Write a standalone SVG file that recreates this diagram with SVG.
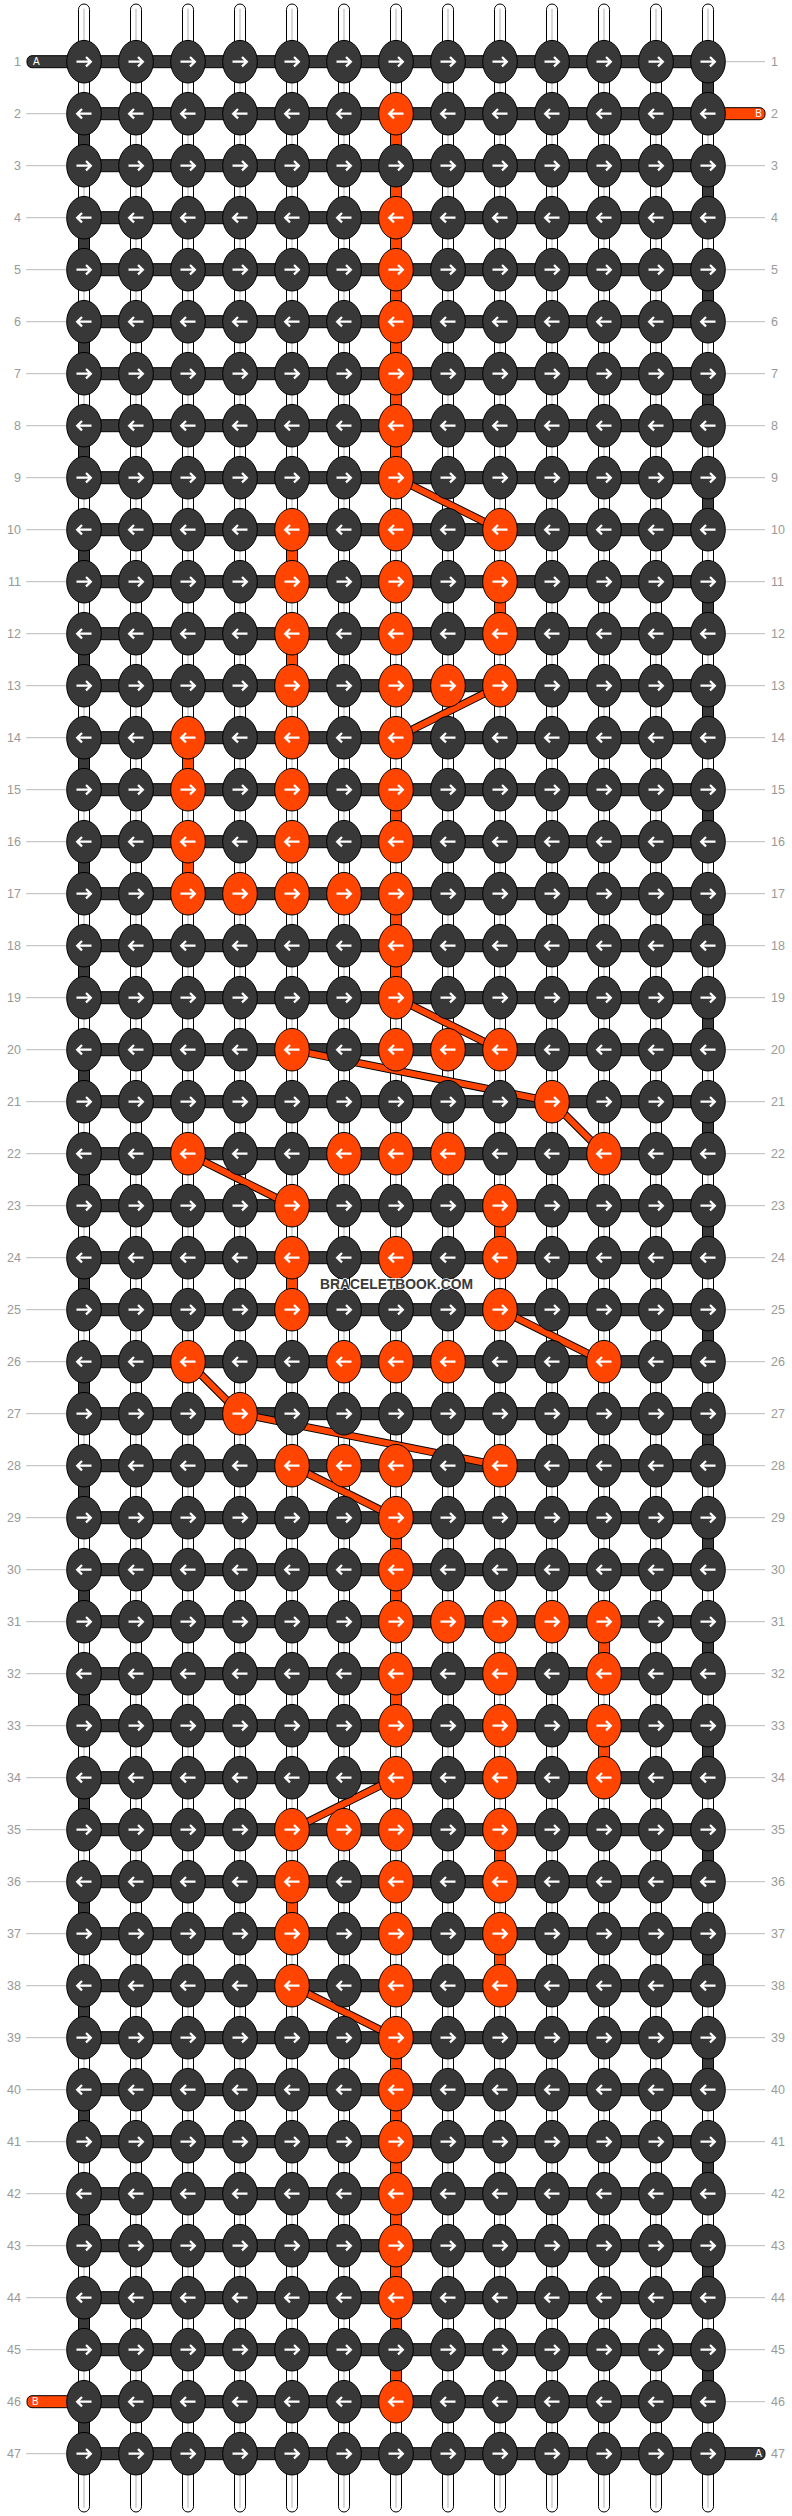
<svg xmlns="http://www.w3.org/2000/svg" xmlns:xlink="http://www.w3.org/1999/xlink" width="792" height="2516" viewBox="0 0 792 2516">
<style>
.lbl{font-family:"Liberation Sans",Arial,sans-serif;font-size:12.5px;fill:#999}
.gl{stroke:#bbb;stroke-width:1}
.tube{fill:#fff;stroke:#000;stroke-width:1}
.tc{stroke:#c8c8c8;stroke-width:1.4}
.bar{fill:#383838;stroke:#000;stroke-width:1}
.vo{fill:#ff4500;stroke:#000;stroke-width:1}
.ob{fill:#ff4500;stroke:#000;stroke-width:1}
.db{stroke:#000;stroke-width:8;stroke-linecap:round}
.do{stroke:#ff4500;stroke-width:6;stroke-linecap:round}
.tl{font-family:"Liberation Sans",Arial,sans-serif;font-size:10px;fill:#fff}
.wm{font-family:"Liberation Sans",Arial,sans-serif;font-weight:bold;font-size:15px;fill:#3a3a3a;stroke:#fff;stroke-width:1.5;paint-order:stroke}
.kd{fill:#383838;stroke:#000;stroke-width:1}
.ko{fill:#ff4500;stroke:#000;stroke-width:1}
.ar{fill:none;stroke:#fff;stroke-width:2.3}
</style>
<defs>
<path id="ar" class="ar" d="M-7.5,0H6.5M2,-4.7L6.8,0L2,4.7"/>
<g id="dR"><ellipse class="kd" rx="17.3" ry="21.3"/><use href="#ar"/></g>
<g id="dL"><ellipse class="kd" rx="17.3" ry="21.3"/><use href="#ar" transform="scale(-1,1)"/></g>
<g id="oR"><ellipse class="ko" rx="17.3" ry="21.3"/><use href="#ar"/></g>
<g id="oL"><ellipse class="ko" rx="17.3" ry="21.3"/><use href="#ar" transform="scale(-1,1)"/></g>
</defs>
<rect width="792" height="2516" fill="#fff"/>
<g transform="translate(32,9.7)">
<g id="strings">
<rect class="tube" x="46.5" y="-5.7" width="11" height="2508" rx="5.5"/><line class="tc" x1="52" y1="-1" x2="52" y2="2498"/>
<rect class="tube" x="98.5" y="-5.7" width="11" height="2508" rx="5.5"/><line class="tc" x1="104" y1="-1" x2="104" y2="2498"/>
<rect class="tube" x="150.5" y="-5.7" width="11" height="2508" rx="5.5"/><line class="tc" x1="156" y1="-1" x2="156" y2="2498"/>
<rect class="tube" x="202.5" y="-5.7" width="11" height="2508" rx="5.5"/><line class="tc" x1="208" y1="-1" x2="208" y2="2498"/>
<rect class="tube" x="254.5" y="-5.7" width="11" height="2508" rx="5.5"/><line class="tc" x1="260" y1="-1" x2="260" y2="2498"/>
<rect class="tube" x="306.5" y="-5.7" width="11" height="2508" rx="5.5"/><line class="tc" x1="312" y1="-1" x2="312" y2="2498"/>
<rect class="tube" x="358.5" y="-5.7" width="11" height="2508" rx="5.5"/><line class="tc" x1="364" y1="-1" x2="364" y2="2498"/>
<rect class="tube" x="410.5" y="-5.7" width="11" height="2508" rx="5.5"/><line class="tc" x1="416" y1="-1" x2="416" y2="2498"/>
<rect class="tube" x="462.5" y="-5.7" width="11" height="2508" rx="5.5"/><line class="tc" x1="468" y1="-1" x2="468" y2="2498"/>
<rect class="tube" x="514.5" y="-5.7" width="11" height="2508" rx="5.5"/><line class="tc" x1="520" y1="-1" x2="520" y2="2498"/>
<rect class="tube" x="566.5" y="-5.7" width="11" height="2508" rx="5.5"/><line class="tc" x1="572" y1="-1" x2="572" y2="2498"/>
<rect class="tube" x="618.5" y="-5.7" width="11" height="2508" rx="5.5"/><line class="tc" x1="624" y1="-1" x2="624" y2="2498"/>
<rect class="tube" x="670.5" y="-5.7" width="11" height="2508" rx="5.5"/><line class="tc" x1="676" y1="-1" x2="676" y2="2498"/>
</g>
<g id="labels-lines">
<line class="gl" x1="-6" x2="34" y1="104" y2="104"/><line class="gl" x1="-6" x2="34" y1="156" y2="156"/><line class="gl" x1="-6" x2="34" y1="208" y2="208"/><line class="gl" x1="-6" x2="34" y1="260" y2="260"/><line class="gl" x1="-6" x2="34" y1="312" y2="312"/><line class="gl" x1="-6" x2="34" y1="364" y2="364"/><line class="gl" x1="-6" x2="34" y1="416" y2="416"/><line class="gl" x1="-6" x2="34" y1="468" y2="468"/><line class="gl" x1="-6" x2="34" y1="520" y2="520"/><line class="gl" x1="-6" x2="34" y1="572" y2="572"/><line class="gl" x1="-6" x2="34" y1="624" y2="624"/><line class="gl" x1="-6" x2="34" y1="676" y2="676"/><line class="gl" x1="-6" x2="34" y1="728" y2="728"/><line class="gl" x1="-6" x2="34" y1="780" y2="780"/><line class="gl" x1="-6" x2="34" y1="832" y2="832"/><line class="gl" x1="-6" x2="34" y1="884" y2="884"/><line class="gl" x1="-6" x2="34" y1="936" y2="936"/><line class="gl" x1="-6" x2="34" y1="988" y2="988"/><line class="gl" x1="-6" x2="34" y1="1040" y2="1040"/><line class="gl" x1="-6" x2="34" y1="1092" y2="1092"/><line class="gl" x1="-6" x2="34" y1="1144" y2="1144"/><line class="gl" x1="-6" x2="34" y1="1196" y2="1196"/><line class="gl" x1="-6" x2="34" y1="1248" y2="1248"/><line class="gl" x1="-6" x2="34" y1="1300" y2="1300"/><line class="gl" x1="-6" x2="34" y1="1352" y2="1352"/><line class="gl" x1="-6" x2="34" y1="1404" y2="1404"/><line class="gl" x1="-6" x2="34" y1="1456" y2="1456"/><line class="gl" x1="-6" x2="34" y1="1508" y2="1508"/><line class="gl" x1="-6" x2="34" y1="1560" y2="1560"/><line class="gl" x1="-6" x2="34" y1="1612" y2="1612"/><line class="gl" x1="-6" x2="34" y1="1664" y2="1664"/><line class="gl" x1="-6" x2="34" y1="1716" y2="1716"/><line class="gl" x1="-6" x2="34" y1="1768" y2="1768"/><line class="gl" x1="-6" x2="34" y1="1820" y2="1820"/><line class="gl" x1="-6" x2="34" y1="1872" y2="1872"/><line class="gl" x1="-6" x2="34" y1="1924" y2="1924"/><line class="gl" x1="-6" x2="34" y1="1976" y2="1976"/><line class="gl" x1="-6" x2="34" y1="2028" y2="2028"/><line class="gl" x1="-6" x2="34" y1="2080" y2="2080"/><line class="gl" x1="-6" x2="34" y1="2132" y2="2132"/><line class="gl" x1="-6" x2="34" y1="2184" y2="2184"/><line class="gl" x1="-6" x2="34" y1="2236" y2="2236"/><line class="gl" x1="-6" x2="34" y1="2288" y2="2288"/><line class="gl" x1="-6" x2="34" y1="2340" y2="2340"/><line class="gl" x1="-6" x2="34" y1="2444" y2="2444"/>
<line class="gl" x1="694" x2="733" y1="52" y2="52"/><line class="gl" x1="694" x2="733" y1="156" y2="156"/><line class="gl" x1="694" x2="733" y1="208" y2="208"/><line class="gl" x1="694" x2="733" y1="260" y2="260"/><line class="gl" x1="694" x2="733" y1="312" y2="312"/><line class="gl" x1="694" x2="733" y1="364" y2="364"/><line class="gl" x1="694" x2="733" y1="416" y2="416"/><line class="gl" x1="694" x2="733" y1="468" y2="468"/><line class="gl" x1="694" x2="733" y1="520" y2="520"/><line class="gl" x1="694" x2="733" y1="572" y2="572"/><line class="gl" x1="694" x2="733" y1="624" y2="624"/><line class="gl" x1="694" x2="733" y1="676" y2="676"/><line class="gl" x1="694" x2="733" y1="728" y2="728"/><line class="gl" x1="694" x2="733" y1="780" y2="780"/><line class="gl" x1="694" x2="733" y1="832" y2="832"/><line class="gl" x1="694" x2="733" y1="884" y2="884"/><line class="gl" x1="694" x2="733" y1="936" y2="936"/><line class="gl" x1="694" x2="733" y1="988" y2="988"/><line class="gl" x1="694" x2="733" y1="1040" y2="1040"/><line class="gl" x1="694" x2="733" y1="1092" y2="1092"/><line class="gl" x1="694" x2="733" y1="1144" y2="1144"/><line class="gl" x1="694" x2="733" y1="1196" y2="1196"/><line class="gl" x1="694" x2="733" y1="1248" y2="1248"/><line class="gl" x1="694" x2="733" y1="1300" y2="1300"/><line class="gl" x1="694" x2="733" y1="1352" y2="1352"/><line class="gl" x1="694" x2="733" y1="1404" y2="1404"/><line class="gl" x1="694" x2="733" y1="1456" y2="1456"/><line class="gl" x1="694" x2="733" y1="1508" y2="1508"/><line class="gl" x1="694" x2="733" y1="1560" y2="1560"/><line class="gl" x1="694" x2="733" y1="1612" y2="1612"/><line class="gl" x1="694" x2="733" y1="1664" y2="1664"/><line class="gl" x1="694" x2="733" y1="1716" y2="1716"/><line class="gl" x1="694" x2="733" y1="1768" y2="1768"/><line class="gl" x1="694" x2="733" y1="1820" y2="1820"/><line class="gl" x1="694" x2="733" y1="1872" y2="1872"/><line class="gl" x1="694" x2="733" y1="1924" y2="1924"/><line class="gl" x1="694" x2="733" y1="1976" y2="1976"/><line class="gl" x1="694" x2="733" y1="2028" y2="2028"/><line class="gl" x1="694" x2="733" y1="2080" y2="2080"/><line class="gl" x1="694" x2="733" y1="2132" y2="2132"/><line class="gl" x1="694" x2="733" y1="2184" y2="2184"/><line class="gl" x1="694" x2="733" y1="2236" y2="2236"/><line class="gl" x1="694" x2="733" y1="2288" y2="2288"/><line class="gl" x1="694" x2="733" y1="2340" y2="2340"/><line class="gl" x1="694" x2="733" y1="2392" y2="2392"/>
</g>
<g id="threads">
<rect class="bar" x="-5" y="46" width="681" height="12" rx="5"/>
<rect class="bar" x="52" y="98" width="624" height="12"/><rect class="bar" x="52" y="150" width="624" height="12"/><rect class="bar" x="52" y="202" width="624" height="12"/><rect class="bar" x="52" y="254" width="624" height="12"/><rect class="bar" x="52" y="306" width="624" height="12"/><rect class="bar" x="52" y="358" width="624" height="12"/><rect class="bar" x="52" y="410" width="624" height="12"/><rect class="bar" x="52" y="462" width="624" height="12"/><rect class="bar" x="52" y="514" width="624" height="12"/><rect class="bar" x="52" y="566" width="624" height="12"/><rect class="bar" x="52" y="618" width="624" height="12"/><rect class="bar" x="52" y="670" width="624" height="12"/><rect class="bar" x="52" y="722" width="624" height="12"/><rect class="bar" x="52" y="774" width="624" height="12"/><rect class="bar" x="52" y="826" width="624" height="12"/><rect class="bar" x="52" y="878" width="624" height="12"/><rect class="bar" x="52" y="930" width="624" height="12"/><rect class="bar" x="52" y="982" width="624" height="12"/><rect class="bar" x="52" y="1034" width="624" height="12"/><rect class="bar" x="52" y="1086" width="624" height="12"/><rect class="bar" x="52" y="1138" width="624" height="12"/><rect class="bar" x="52" y="1190" width="624" height="12"/><rect class="bar" x="52" y="1242" width="624" height="12"/><rect class="bar" x="52" y="1294" width="624" height="12"/><rect class="bar" x="52" y="1346" width="624" height="12"/><rect class="bar" x="52" y="1398" width="624" height="12"/><rect class="bar" x="52" y="1450" width="624" height="12"/><rect class="bar" x="52" y="1502" width="624" height="12"/><rect class="bar" x="52" y="1554" width="624" height="12"/><rect class="bar" x="52" y="1606" width="624" height="12"/><rect class="bar" x="52" y="1658" width="624" height="12"/><rect class="bar" x="52" y="1710" width="624" height="12"/><rect class="bar" x="52" y="1762" width="624" height="12"/><rect class="bar" x="52" y="1814" width="624" height="12"/><rect class="bar" x="52" y="1866" width="624" height="12"/><rect class="bar" x="52" y="1918" width="624" height="12"/><rect class="bar" x="52" y="1970" width="624" height="12"/><rect class="bar" x="52" y="2022" width="624" height="12"/><rect class="bar" x="52" y="2074" width="624" height="12"/><rect class="bar" x="52" y="2126" width="624" height="12"/><rect class="bar" x="52" y="2178" width="624" height="12"/><rect class="bar" x="52" y="2230" width="624" height="12"/><rect class="bar" x="52" y="2282" width="624" height="12"/><rect class="bar" x="52" y="2334" width="624" height="12"/><rect class="bar" x="52" y="2386" width="624" height="12"/>
<rect class="bar" x="52" y="2438" width="681" height="12" rx="5"/>
<rect class="ob" x="660" y="98" width="73" height="12" rx="5"/>
<rect class="ob" x="-5" y="2386" width="67" height="12" rx="5"/>
<rect class="bar" x="670.5" y="52" width="11" height="52"/><rect class="bar" x="670.5" y="156" width="11" height="52"/><rect class="bar" x="670.5" y="260" width="11" height="52"/><rect class="bar" x="670.5" y="364" width="11" height="52"/><rect class="bar" x="670.5" y="468" width="11" height="52"/><rect class="bar" x="670.5" y="572" width="11" height="52"/><rect class="bar" x="670.5" y="676" width="11" height="52"/><rect class="bar" x="670.5" y="780" width="11" height="52"/><rect class="bar" x="670.5" y="884" width="11" height="52"/><rect class="bar" x="670.5" y="988" width="11" height="52"/><rect class="bar" x="670.5" y="1092" width="11" height="52"/><rect class="bar" x="670.5" y="1196" width="11" height="52"/><rect class="bar" x="670.5" y="1300" width="11" height="52"/><rect class="bar" x="670.5" y="1404" width="11" height="52"/><rect class="bar" x="670.5" y="1508" width="11" height="52"/><rect class="bar" x="670.5" y="1612" width="11" height="52"/><rect class="bar" x="670.5" y="1716" width="11" height="52"/><rect class="bar" x="670.5" y="1820" width="11" height="52"/><rect class="bar" x="670.5" y="1924" width="11" height="52"/><rect class="bar" x="670.5" y="2028" width="11" height="52"/><rect class="bar" x="670.5" y="2132" width="11" height="52"/><rect class="bar" x="670.5" y="2236" width="11" height="52"/><rect class="bar" x="670.5" y="2340" width="11" height="52"/>
<rect class="bar" x="46.5" y="104" width="11" height="52"/><rect class="bar" x="46.5" y="208" width="11" height="52"/><rect class="bar" x="46.5" y="312" width="11" height="52"/><rect class="bar" x="46.5" y="416" width="11" height="52"/><rect class="bar" x="46.5" y="520" width="11" height="52"/><rect class="bar" x="46.5" y="624" width="11" height="52"/><rect class="bar" x="46.5" y="728" width="11" height="52"/><rect class="bar" x="46.5" y="832" width="11" height="52"/><rect class="bar" x="46.5" y="936" width="11" height="52"/><rect class="bar" x="46.5" y="1040" width="11" height="52"/><rect class="bar" x="46.5" y="1144" width="11" height="52"/><rect class="bar" x="46.5" y="1248" width="11" height="52"/><rect class="bar" x="46.5" y="1352" width="11" height="52"/><rect class="bar" x="46.5" y="1456" width="11" height="52"/><rect class="bar" x="46.5" y="1560" width="11" height="52"/><rect class="bar" x="46.5" y="1664" width="11" height="52"/><rect class="bar" x="46.5" y="1768" width="11" height="52"/><rect class="bar" x="46.5" y="1872" width="11" height="52"/><rect class="bar" x="46.5" y="1976" width="11" height="52"/><rect class="bar" x="46.5" y="2080" width="11" height="52"/><rect class="bar" x="46.5" y="2184" width="11" height="52"/><rect class="bar" x="46.5" y="2288" width="11" height="52"/><rect class="bar" x="46.5" y="2392" width="11" height="52"/>
<rect class="vo" x="358.5" y="104" width="11" height="364"/>
<rect class="vo" x="254.5" y="520" width="11" height="52"/>
<rect class="vo" x="462.5" y="572" width="11" height="52"/>
<rect class="vo" x="254.5" y="624" width="11" height="52"/>
<rect class="vo" x="150.5" y="728" width="11" height="52"/>
<rect class="vo" x="358.5" y="780" width="11" height="52"/>
<rect class="vo" x="150.5" y="832" width="11" height="52"/>
<rect class="vo" x="358.5" y="884" width="11" height="104"/>
<rect class="vo" x="462.5" y="1196" width="11" height="52"/>
<rect class="vo" x="254.5" y="1248" width="11" height="52"/>
<rect class="vo" x="358.5" y="1508" width="11" height="104"/>
<rect class="vo" x="566.5" y="1612" width="11" height="52"/>
<rect class="vo" x="358.5" y="1664" width="11" height="52"/>
<rect class="vo" x="566.5" y="1716" width="11" height="52"/>
<rect class="vo" x="462.5" y="1820" width="11" height="52"/>
<rect class="vo" x="254.5" y="1872" width="11" height="52"/>
<rect class="vo" x="462.5" y="1924" width="11" height="52"/>
<rect class="vo" x="358.5" y="2028" width="11" height="364"/>
<g class="db">
<line x1="364" y1="468" x2="468" y2="520"/><line x1="468" y1="676" x2="364" y2="728"/><line x1="364" y1="988" x2="468" y2="1040"/><line x1="260" y1="1040" x2="520" y2="1092"/><line x1="520" y1="1092" x2="572" y2="1144"/><line x1="156" y1="1144" x2="260" y2="1196"/><line x1="468" y1="1300" x2="572" y2="1352"/><line x1="156" y1="1352" x2="208" y2="1404"/><line x1="208" y1="1404" x2="468" y2="1456"/><line x1="260" y1="1456" x2="364" y2="1508"/><line x1="364" y1="1768" x2="260" y2="1820"/><line x1="260" y1="1976" x2="364" y2="2028"/>
</g>
<g class="do">
<line x1="364" y1="468" x2="468" y2="520"/><line x1="468" y1="676" x2="364" y2="728"/><line x1="364" y1="988" x2="468" y2="1040"/><line x1="260" y1="1040" x2="520" y2="1092"/><line x1="520" y1="1092" x2="572" y2="1144"/><line x1="156" y1="1144" x2="260" y2="1196"/><line x1="468" y1="1300" x2="572" y2="1352"/><line x1="156" y1="1352" x2="208" y2="1404"/><line x1="208" y1="1404" x2="468" y2="1456"/><line x1="260" y1="1456" x2="364" y2="1508"/><line x1="364" y1="1768" x2="260" y2="1820"/><line x1="260" y1="1976" x2="364" y2="2028"/>
</g>
<text class="tl" x="1" y="55.5">A</text>
<text class="tl" x="730" y="2447.5" text-anchor="end">A</text>
<text class="tl" x="730" y="107.5" text-anchor="end">B</text>
<text class="tl" x="0" y="2395.5">B</text>
</g>
<g id="knots">
<g transform="translate(0,52)"><g id="k1-1"><use href="#dR" x="52"/></g><g id="k1-2"><use href="#dR" x="104"/></g><g id="k1-3"><use href="#dR" x="156"/></g><g id="k1-4"><use href="#dR" x="208"/></g><g id="k1-5"><use href="#dR" x="260"/></g><g id="k1-6"><use href="#dR" x="312"/></g><g id="k1-7"><use href="#dR" x="364"/></g><g id="k1-8"><use href="#dR" x="416"/></g><g id="k1-9"><use href="#dR" x="468"/></g><g id="k1-10"><use href="#dR" x="520"/></g><g id="k1-11"><use href="#dR" x="572"/></g><g id="k1-12"><use href="#dR" x="624"/></g><g id="k1-13"><use href="#dR" x="676"/></g></g>
<g transform="translate(0,104)"><g id="k2-1"><use href="#dL" x="52"/></g><g id="k2-2"><use href="#dL" x="104"/></g><g id="k2-3"><use href="#dL" x="156"/></g><g id="k2-4"><use href="#dL" x="208"/></g><g id="k2-5"><use href="#dL" x="260"/></g><g id="k2-6"><use href="#dL" x="312"/></g><g id="k2-7"><use href="#oL" x="364"/></g><g id="k2-8"><use href="#dL" x="416"/></g><g id="k2-9"><use href="#dL" x="468"/></g><g id="k2-10"><use href="#dL" x="520"/></g><g id="k2-11"><use href="#dL" x="572"/></g><g id="k2-12"><use href="#dL" x="624"/></g><g id="k2-13"><use href="#dL" x="676"/></g></g>
<g transform="translate(0,156)"><g id="k3-1"><use href="#dR" x="52"/></g><g id="k3-2"><use href="#dR" x="104"/></g><g id="k3-3"><use href="#dR" x="156"/></g><g id="k3-4"><use href="#dR" x="208"/></g><g id="k3-5"><use href="#dR" x="260"/></g><g id="k3-6"><use href="#dR" x="312"/></g><g id="k3-7"><use href="#dR" x="364"/></g><g id="k3-8"><use href="#dR" x="416"/></g><g id="k3-9"><use href="#dR" x="468"/></g><g id="k3-10"><use href="#dR" x="520"/></g><g id="k3-11"><use href="#dR" x="572"/></g><g id="k3-12"><use href="#dR" x="624"/></g><g id="k3-13"><use href="#dR" x="676"/></g></g>
<g transform="translate(0,208)"><g id="k4-1"><use href="#dL" x="52"/></g><g id="k4-2"><use href="#dL" x="104"/></g><g id="k4-3"><use href="#dL" x="156"/></g><g id="k4-4"><use href="#dL" x="208"/></g><g id="k4-5"><use href="#dL" x="260"/></g><g id="k4-6"><use href="#dL" x="312"/></g><g id="k4-7"><use href="#oL" x="364"/></g><g id="k4-8"><use href="#dL" x="416"/></g><g id="k4-9"><use href="#dL" x="468"/></g><g id="k4-10"><use href="#dL" x="520"/></g><g id="k4-11"><use href="#dL" x="572"/></g><g id="k4-12"><use href="#dL" x="624"/></g><g id="k4-13"><use href="#dL" x="676"/></g></g>
<g transform="translate(0,260)"><g id="k5-1"><use href="#dR" x="52"/></g><g id="k5-2"><use href="#dR" x="104"/></g><g id="k5-3"><use href="#dR" x="156"/></g><g id="k5-4"><use href="#dR" x="208"/></g><g id="k5-5"><use href="#dR" x="260"/></g><g id="k5-6"><use href="#dR" x="312"/></g><g id="k5-7"><use href="#oR" x="364"/></g><g id="k5-8"><use href="#dR" x="416"/></g><g id="k5-9"><use href="#dR" x="468"/></g><g id="k5-10"><use href="#dR" x="520"/></g><g id="k5-11"><use href="#dR" x="572"/></g><g id="k5-12"><use href="#dR" x="624"/></g><g id="k5-13"><use href="#dR" x="676"/></g></g>
<g transform="translate(0,312)"><g id="k6-1"><use href="#dL" x="52"/></g><g id="k6-2"><use href="#dL" x="104"/></g><g id="k6-3"><use href="#dL" x="156"/></g><g id="k6-4"><use href="#dL" x="208"/></g><g id="k6-5"><use href="#dL" x="260"/></g><g id="k6-6"><use href="#dL" x="312"/></g><g id="k6-7"><use href="#oL" x="364"/></g><g id="k6-8"><use href="#dL" x="416"/></g><g id="k6-9"><use href="#dL" x="468"/></g><g id="k6-10"><use href="#dL" x="520"/></g><g id="k6-11"><use href="#dL" x="572"/></g><g id="k6-12"><use href="#dL" x="624"/></g><g id="k6-13"><use href="#dL" x="676"/></g></g>
<g transform="translate(0,364)"><g id="k7-1"><use href="#dR" x="52"/></g><g id="k7-2"><use href="#dR" x="104"/></g><g id="k7-3"><use href="#dR" x="156"/></g><g id="k7-4"><use href="#dR" x="208"/></g><g id="k7-5"><use href="#dR" x="260"/></g><g id="k7-6"><use href="#dR" x="312"/></g><g id="k7-7"><use href="#oR" x="364"/></g><g id="k7-8"><use href="#dR" x="416"/></g><g id="k7-9"><use href="#dR" x="468"/></g><g id="k7-10"><use href="#dR" x="520"/></g><g id="k7-11"><use href="#dR" x="572"/></g><g id="k7-12"><use href="#dR" x="624"/></g><g id="k7-13"><use href="#dR" x="676"/></g></g>
<g transform="translate(0,416)"><g id="k8-1"><use href="#dL" x="52"/></g><g id="k8-2"><use href="#dL" x="104"/></g><g id="k8-3"><use href="#dL" x="156"/></g><g id="k8-4"><use href="#dL" x="208"/></g><g id="k8-5"><use href="#dL" x="260"/></g><g id="k8-6"><use href="#dL" x="312"/></g><g id="k8-7"><use href="#oL" x="364"/></g><g id="k8-8"><use href="#dL" x="416"/></g><g id="k8-9"><use href="#dL" x="468"/></g><g id="k8-10"><use href="#dL" x="520"/></g><g id="k8-11"><use href="#dL" x="572"/></g><g id="k8-12"><use href="#dL" x="624"/></g><g id="k8-13"><use href="#dL" x="676"/></g></g>
<g transform="translate(0,468)"><g id="k9-1"><use href="#dR" x="52"/></g><g id="k9-2"><use href="#dR" x="104"/></g><g id="k9-3"><use href="#dR" x="156"/></g><g id="k9-4"><use href="#dR" x="208"/></g><g id="k9-5"><use href="#dR" x="260"/></g><g id="k9-6"><use href="#dR" x="312"/></g><g id="k9-7"><use href="#oR" x="364"/></g><g id="k9-8"><use href="#dR" x="416"/></g><g id="k9-9"><use href="#dR" x="468"/></g><g id="k9-10"><use href="#dR" x="520"/></g><g id="k9-11"><use href="#dR" x="572"/></g><g id="k9-12"><use href="#dR" x="624"/></g><g id="k9-13"><use href="#dR" x="676"/></g></g>
<g transform="translate(0,520)"><g id="k10-1"><use href="#dL" x="52"/></g><g id="k10-2"><use href="#dL" x="104"/></g><g id="k10-3"><use href="#dL" x="156"/></g><g id="k10-4"><use href="#dL" x="208"/></g><g id="k10-5"><use href="#oL" x="260"/></g><g id="k10-6"><use href="#dL" x="312"/></g><g id="k10-7"><use href="#oL" x="364"/></g><g id="k10-8"><use href="#dL" x="416"/></g><g id="k10-9"><use href="#oL" x="468"/></g><g id="k10-10"><use href="#dL" x="520"/></g><g id="k10-11"><use href="#dL" x="572"/></g><g id="k10-12"><use href="#dL" x="624"/></g><g id="k10-13"><use href="#dL" x="676"/></g></g>
<g transform="translate(0,572)"><g id="k11-1"><use href="#dR" x="52"/></g><g id="k11-2"><use href="#dR" x="104"/></g><g id="k11-3"><use href="#dR" x="156"/></g><g id="k11-4"><use href="#dR" x="208"/></g><g id="k11-5"><use href="#oR" x="260"/></g><g id="k11-6"><use href="#dR" x="312"/></g><g id="k11-7"><use href="#oR" x="364"/></g><g id="k11-8"><use href="#dR" x="416"/></g><g id="k11-9"><use href="#oR" x="468"/></g><g id="k11-10"><use href="#dR" x="520"/></g><g id="k11-11"><use href="#dR" x="572"/></g><g id="k11-12"><use href="#dR" x="624"/></g><g id="k11-13"><use href="#dR" x="676"/></g></g>
<g transform="translate(0,624)"><g id="k12-1"><use href="#dL" x="52"/></g><g id="k12-2"><use href="#dL" x="104"/></g><g id="k12-3"><use href="#dL" x="156"/></g><g id="k12-4"><use href="#dL" x="208"/></g><g id="k12-5"><use href="#oL" x="260"/></g><g id="k12-6"><use href="#dL" x="312"/></g><g id="k12-7"><use href="#oL" x="364"/></g><g id="k12-8"><use href="#dL" x="416"/></g><g id="k12-9"><use href="#oL" x="468"/></g><g id="k12-10"><use href="#dL" x="520"/></g><g id="k12-11"><use href="#dL" x="572"/></g><g id="k12-12"><use href="#dL" x="624"/></g><g id="k12-13"><use href="#dL" x="676"/></g></g>
<g transform="translate(0,676)"><g id="k13-1"><use href="#dR" x="52"/></g><g id="k13-2"><use href="#dR" x="104"/></g><g id="k13-3"><use href="#dR" x="156"/></g><g id="k13-4"><use href="#dR" x="208"/></g><g id="k13-5"><use href="#oR" x="260"/></g><g id="k13-6"><use href="#dR" x="312"/></g><g id="k13-7"><use href="#oR" x="364"/></g><g id="k13-8"><use href="#oR" x="416"/></g><g id="k13-9"><use href="#oR" x="468"/></g><g id="k13-10"><use href="#dR" x="520"/></g><g id="k13-11"><use href="#dR" x="572"/></g><g id="k13-12"><use href="#dR" x="624"/></g><g id="k13-13"><use href="#dR" x="676"/></g></g>
<g transform="translate(0,728)"><g id="k14-1"><use href="#dL" x="52"/></g><g id="k14-2"><use href="#dL" x="104"/></g><g id="k14-3"><use href="#oL" x="156"/></g><g id="k14-4"><use href="#dL" x="208"/></g><g id="k14-5"><use href="#oL" x="260"/></g><g id="k14-6"><use href="#dL" x="312"/></g><g id="k14-7"><use href="#oL" x="364"/></g><g id="k14-8"><use href="#dL" x="416"/></g><g id="k14-9"><use href="#dL" x="468"/></g><g id="k14-10"><use href="#dL" x="520"/></g><g id="k14-11"><use href="#dL" x="572"/></g><g id="k14-12"><use href="#dL" x="624"/></g><g id="k14-13"><use href="#dL" x="676"/></g></g>
<g transform="translate(0,780)"><g id="k15-1"><use href="#dR" x="52"/></g><g id="k15-2"><use href="#dR" x="104"/></g><g id="k15-3"><use href="#oR" x="156"/></g><g id="k15-4"><use href="#dR" x="208"/></g><g id="k15-5"><use href="#oR" x="260"/></g><g id="k15-6"><use href="#dR" x="312"/></g><g id="k15-7"><use href="#oR" x="364"/></g><g id="k15-8"><use href="#dR" x="416"/></g><g id="k15-9"><use href="#dR" x="468"/></g><g id="k15-10"><use href="#dR" x="520"/></g><g id="k15-11"><use href="#dR" x="572"/></g><g id="k15-12"><use href="#dR" x="624"/></g><g id="k15-13"><use href="#dR" x="676"/></g></g>
<g transform="translate(0,832)"><g id="k16-1"><use href="#dL" x="52"/></g><g id="k16-2"><use href="#dL" x="104"/></g><g id="k16-3"><use href="#oL" x="156"/></g><g id="k16-4"><use href="#dL" x="208"/></g><g id="k16-5"><use href="#oL" x="260"/></g><g id="k16-6"><use href="#dL" x="312"/></g><g id="k16-7"><use href="#oL" x="364"/></g><g id="k16-8"><use href="#dL" x="416"/></g><g id="k16-9"><use href="#dL" x="468"/></g><g id="k16-10"><use href="#dL" x="520"/></g><g id="k16-11"><use href="#dL" x="572"/></g><g id="k16-12"><use href="#dL" x="624"/></g><g id="k16-13"><use href="#dL" x="676"/></g></g>
<g transform="translate(0,884)"><g id="k17-1"><use href="#dR" x="52"/></g><g id="k17-2"><use href="#dR" x="104"/></g><g id="k17-3"><use href="#oR" x="156"/></g><g id="k17-4"><use href="#oR" x="208"/></g><g id="k17-5"><use href="#oR" x="260"/></g><g id="k17-6"><use href="#oR" x="312"/></g><g id="k17-7"><use href="#oR" x="364"/></g><g id="k17-8"><use href="#dR" x="416"/></g><g id="k17-9"><use href="#dR" x="468"/></g><g id="k17-10"><use href="#dR" x="520"/></g><g id="k17-11"><use href="#dR" x="572"/></g><g id="k17-12"><use href="#dR" x="624"/></g><g id="k17-13"><use href="#dR" x="676"/></g></g>
<g transform="translate(0,936)"><g id="k18-1"><use href="#dL" x="52"/></g><g id="k18-2"><use href="#dL" x="104"/></g><g id="k18-3"><use href="#dL" x="156"/></g><g id="k18-4"><use href="#dL" x="208"/></g><g id="k18-5"><use href="#dL" x="260"/></g><g id="k18-6"><use href="#dL" x="312"/></g><g id="k18-7"><use href="#oL" x="364"/></g><g id="k18-8"><use href="#dL" x="416"/></g><g id="k18-9"><use href="#dL" x="468"/></g><g id="k18-10"><use href="#dL" x="520"/></g><g id="k18-11"><use href="#dL" x="572"/></g><g id="k18-12"><use href="#dL" x="624"/></g><g id="k18-13"><use href="#dL" x="676"/></g></g>
<g transform="translate(0,988)"><g id="k19-1"><use href="#dR" x="52"/></g><g id="k19-2"><use href="#dR" x="104"/></g><g id="k19-3"><use href="#dR" x="156"/></g><g id="k19-4"><use href="#dR" x="208"/></g><g id="k19-5"><use href="#dR" x="260"/></g><g id="k19-6"><use href="#dR" x="312"/></g><g id="k19-7"><use href="#oR" x="364"/></g><g id="k19-8"><use href="#dR" x="416"/></g><g id="k19-9"><use href="#dR" x="468"/></g><g id="k19-10"><use href="#dR" x="520"/></g><g id="k19-11"><use href="#dR" x="572"/></g><g id="k19-12"><use href="#dR" x="624"/></g><g id="k19-13"><use href="#dR" x="676"/></g></g>
<g transform="translate(0,1040)"><g id="k20-1"><use href="#dL" x="52"/></g><g id="k20-2"><use href="#dL" x="104"/></g><g id="k20-3"><use href="#dL" x="156"/></g><g id="k20-4"><use href="#dL" x="208"/></g><g id="k20-5"><use href="#oL" x="260"/></g><g id="k20-6"><use href="#dL" x="312"/></g><g id="k20-7"><use href="#oL" x="364"/></g><g id="k20-8"><use href="#oL" x="416"/></g><g id="k20-9"><use href="#oL" x="468"/></g><g id="k20-10"><use href="#dL" x="520"/></g><g id="k20-11"><use href="#dL" x="572"/></g><g id="k20-12"><use href="#dL" x="624"/></g><g id="k20-13"><use href="#dL" x="676"/></g></g>
<g transform="translate(0,1092)"><g id="k21-1"><use href="#dR" x="52"/></g><g id="k21-2"><use href="#dR" x="104"/></g><g id="k21-3"><use href="#dR" x="156"/></g><g id="k21-4"><use href="#dR" x="208"/></g><g id="k21-5"><use href="#dR" x="260"/></g><g id="k21-6"><use href="#dR" x="312"/></g><g id="k21-7"><use href="#dR" x="364"/></g><g id="k21-8"><use href="#dR" x="416"/></g><g id="k21-9"><use href="#dR" x="468"/></g><g id="k21-10"><use href="#oR" x="520"/></g><g id="k21-11"><use href="#dR" x="572"/></g><g id="k21-12"><use href="#dR" x="624"/></g><g id="k21-13"><use href="#dR" x="676"/></g></g>
<g transform="translate(0,1144)"><g id="k22-1"><use href="#dL" x="52"/></g><g id="k22-2"><use href="#dL" x="104"/></g><g id="k22-3"><use href="#oL" x="156"/></g><g id="k22-4"><use href="#dL" x="208"/></g><g id="k22-5"><use href="#dL" x="260"/></g><g id="k22-6"><use href="#oL" x="312"/></g><g id="k22-7"><use href="#oL" x="364"/></g><g id="k22-8"><use href="#oL" x="416"/></g><g id="k22-9"><use href="#dL" x="468"/></g><g id="k22-10"><use href="#dL" x="520"/></g><g id="k22-11"><use href="#oL" x="572"/></g><g id="k22-12"><use href="#dL" x="624"/></g><g id="k22-13"><use href="#dL" x="676"/></g></g>
<g transform="translate(0,1196)"><g id="k23-1"><use href="#dR" x="52"/></g><g id="k23-2"><use href="#dR" x="104"/></g><g id="k23-3"><use href="#dR" x="156"/></g><g id="k23-4"><use href="#dR" x="208"/></g><g id="k23-5"><use href="#oR" x="260"/></g><g id="k23-6"><use href="#dR" x="312"/></g><g id="k23-7"><use href="#dR" x="364"/></g><g id="k23-8"><use href="#dR" x="416"/></g><g id="k23-9"><use href="#oR" x="468"/></g><g id="k23-10"><use href="#dR" x="520"/></g><g id="k23-11"><use href="#dR" x="572"/></g><g id="k23-12"><use href="#dR" x="624"/></g><g id="k23-13"><use href="#dR" x="676"/></g></g>
<g transform="translate(0,1248)"><g id="k24-1"><use href="#dL" x="52"/></g><g id="k24-2"><use href="#dL" x="104"/></g><g id="k24-3"><use href="#dL" x="156"/></g><g id="k24-4"><use href="#dL" x="208"/></g><g id="k24-5"><use href="#oL" x="260"/></g><g id="k24-6"><use href="#dL" x="312"/></g><g id="k24-7"><use href="#oL" x="364"/></g><g id="k24-8"><use href="#dL" x="416"/></g><g id="k24-9"><use href="#oL" x="468"/></g><g id="k24-10"><use href="#dL" x="520"/></g><g id="k24-11"><use href="#dL" x="572"/></g><g id="k24-12"><use href="#dL" x="624"/></g><g id="k24-13"><use href="#dL" x="676"/></g></g>
<g transform="translate(0,1300)"><g id="k25-1"><use href="#dR" x="52"/></g><g id="k25-2"><use href="#dR" x="104"/></g><g id="k25-3"><use href="#dR" x="156"/></g><g id="k25-4"><use href="#dR" x="208"/></g><g id="k25-5"><use href="#oR" x="260"/></g><g id="k25-6"><use href="#dR" x="312"/></g><g id="k25-7"><use href="#dR" x="364"/></g><g id="k25-8"><use href="#dR" x="416"/></g><g id="k25-9"><use href="#oR" x="468"/></g><g id="k25-10"><use href="#dR" x="520"/></g><g id="k25-11"><use href="#dR" x="572"/></g><g id="k25-12"><use href="#dR" x="624"/></g><g id="k25-13"><use href="#dR" x="676"/></g></g>
<g transform="translate(0,1352)"><g id="k26-1"><use href="#dL" x="52"/></g><g id="k26-2"><use href="#dL" x="104"/></g><g id="k26-3"><use href="#oL" x="156"/></g><g id="k26-4"><use href="#dL" x="208"/></g><g id="k26-5"><use href="#dL" x="260"/></g><g id="k26-6"><use href="#oL" x="312"/></g><g id="k26-7"><use href="#oL" x="364"/></g><g id="k26-8"><use href="#oL" x="416"/></g><g id="k26-9"><use href="#dL" x="468"/></g><g id="k26-10"><use href="#dL" x="520"/></g><g id="k26-11"><use href="#oL" x="572"/></g><g id="k26-12"><use href="#dL" x="624"/></g><g id="k26-13"><use href="#dL" x="676"/></g></g>
<g transform="translate(0,1404)"><g id="k27-1"><use href="#dR" x="52"/></g><g id="k27-2"><use href="#dR" x="104"/></g><g id="k27-3"><use href="#dR" x="156"/></g><g id="k27-4"><use href="#oR" x="208"/></g><g id="k27-5"><use href="#dR" x="260"/></g><g id="k27-6"><use href="#dR" x="312"/></g><g id="k27-7"><use href="#dR" x="364"/></g><g id="k27-8"><use href="#dR" x="416"/></g><g id="k27-9"><use href="#dR" x="468"/></g><g id="k27-10"><use href="#dR" x="520"/></g><g id="k27-11"><use href="#dR" x="572"/></g><g id="k27-12"><use href="#dR" x="624"/></g><g id="k27-13"><use href="#dR" x="676"/></g></g>
<g transform="translate(0,1456)"><g id="k28-1"><use href="#dL" x="52"/></g><g id="k28-2"><use href="#dL" x="104"/></g><g id="k28-3"><use href="#dL" x="156"/></g><g id="k28-4"><use href="#dL" x="208"/></g><g id="k28-5"><use href="#oL" x="260"/></g><g id="k28-6"><use href="#oL" x="312"/></g><g id="k28-7"><use href="#oL" x="364"/></g><g id="k28-8"><use href="#dL" x="416"/></g><g id="k28-9"><use href="#oL" x="468"/></g><g id="k28-10"><use href="#dL" x="520"/></g><g id="k28-11"><use href="#dL" x="572"/></g><g id="k28-12"><use href="#dL" x="624"/></g><g id="k28-13"><use href="#dL" x="676"/></g></g>
<g transform="translate(0,1508)"><g id="k29-1"><use href="#dR" x="52"/></g><g id="k29-2"><use href="#dR" x="104"/></g><g id="k29-3"><use href="#dR" x="156"/></g><g id="k29-4"><use href="#dR" x="208"/></g><g id="k29-5"><use href="#dR" x="260"/></g><g id="k29-6"><use href="#dR" x="312"/></g><g id="k29-7"><use href="#oR" x="364"/></g><g id="k29-8"><use href="#dR" x="416"/></g><g id="k29-9"><use href="#dR" x="468"/></g><g id="k29-10"><use href="#dR" x="520"/></g><g id="k29-11"><use href="#dR" x="572"/></g><g id="k29-12"><use href="#dR" x="624"/></g><g id="k29-13"><use href="#dR" x="676"/></g></g>
<g transform="translate(0,1560)"><g id="k30-1"><use href="#dL" x="52"/></g><g id="k30-2"><use href="#dL" x="104"/></g><g id="k30-3"><use href="#dL" x="156"/></g><g id="k30-4"><use href="#dL" x="208"/></g><g id="k30-5"><use href="#dL" x="260"/></g><g id="k30-6"><use href="#dL" x="312"/></g><g id="k30-7"><use href="#oL" x="364"/></g><g id="k30-8"><use href="#dL" x="416"/></g><g id="k30-9"><use href="#dL" x="468"/></g><g id="k30-10"><use href="#dL" x="520"/></g><g id="k30-11"><use href="#dL" x="572"/></g><g id="k30-12"><use href="#dL" x="624"/></g><g id="k30-13"><use href="#dL" x="676"/></g></g>
<g transform="translate(0,1612)"><g id="k31-1"><use href="#dR" x="52"/></g><g id="k31-2"><use href="#dR" x="104"/></g><g id="k31-3"><use href="#dR" x="156"/></g><g id="k31-4"><use href="#dR" x="208"/></g><g id="k31-5"><use href="#dR" x="260"/></g><g id="k31-6"><use href="#dR" x="312"/></g><g id="k31-7"><use href="#oR" x="364"/></g><g id="k31-8"><use href="#oR" x="416"/></g><g id="k31-9"><use href="#oR" x="468"/></g><g id="k31-10"><use href="#oR" x="520"/></g><g id="k31-11"><use href="#oR" x="572"/></g><g id="k31-12"><use href="#dR" x="624"/></g><g id="k31-13"><use href="#dR" x="676"/></g></g>
<g transform="translate(0,1664)"><g id="k32-1"><use href="#dL" x="52"/></g><g id="k32-2"><use href="#dL" x="104"/></g><g id="k32-3"><use href="#dL" x="156"/></g><g id="k32-4"><use href="#dL" x="208"/></g><g id="k32-5"><use href="#dL" x="260"/></g><g id="k32-6"><use href="#dL" x="312"/></g><g id="k32-7"><use href="#oL" x="364"/></g><g id="k32-8"><use href="#dL" x="416"/></g><g id="k32-9"><use href="#oL" x="468"/></g><g id="k32-10"><use href="#dL" x="520"/></g><g id="k32-11"><use href="#oL" x="572"/></g><g id="k32-12"><use href="#dL" x="624"/></g><g id="k32-13"><use href="#dL" x="676"/></g></g>
<g transform="translate(0,1716)"><g id="k33-1"><use href="#dR" x="52"/></g><g id="k33-2"><use href="#dR" x="104"/></g><g id="k33-3"><use href="#dR" x="156"/></g><g id="k33-4"><use href="#dR" x="208"/></g><g id="k33-5"><use href="#dR" x="260"/></g><g id="k33-6"><use href="#dR" x="312"/></g><g id="k33-7"><use href="#oR" x="364"/></g><g id="k33-8"><use href="#dR" x="416"/></g><g id="k33-9"><use href="#oR" x="468"/></g><g id="k33-10"><use href="#dR" x="520"/></g><g id="k33-11"><use href="#oR" x="572"/></g><g id="k33-12"><use href="#dR" x="624"/></g><g id="k33-13"><use href="#dR" x="676"/></g></g>
<g transform="translate(0,1768)"><g id="k34-1"><use href="#dL" x="52"/></g><g id="k34-2"><use href="#dL" x="104"/></g><g id="k34-3"><use href="#dL" x="156"/></g><g id="k34-4"><use href="#dL" x="208"/></g><g id="k34-5"><use href="#dL" x="260"/></g><g id="k34-6"><use href="#dL" x="312"/></g><g id="k34-7"><use href="#oL" x="364"/></g><g id="k34-8"><use href="#dL" x="416"/></g><g id="k34-9"><use href="#oL" x="468"/></g><g id="k34-10"><use href="#dL" x="520"/></g><g id="k34-11"><use href="#oL" x="572"/></g><g id="k34-12"><use href="#dL" x="624"/></g><g id="k34-13"><use href="#dL" x="676"/></g></g>
<g transform="translate(0,1820)"><g id="k35-1"><use href="#dR" x="52"/></g><g id="k35-2"><use href="#dR" x="104"/></g><g id="k35-3"><use href="#dR" x="156"/></g><g id="k35-4"><use href="#dR" x="208"/></g><g id="k35-5"><use href="#oR" x="260"/></g><g id="k35-6"><use href="#oR" x="312"/></g><g id="k35-7"><use href="#oR" x="364"/></g><g id="k35-8"><use href="#dR" x="416"/></g><g id="k35-9"><use href="#oR" x="468"/></g><g id="k35-10"><use href="#dR" x="520"/></g><g id="k35-11"><use href="#dR" x="572"/></g><g id="k35-12"><use href="#dR" x="624"/></g><g id="k35-13"><use href="#dR" x="676"/></g></g>
<g transform="translate(0,1872)"><g id="k36-1"><use href="#dL" x="52"/></g><g id="k36-2"><use href="#dL" x="104"/></g><g id="k36-3"><use href="#dL" x="156"/></g><g id="k36-4"><use href="#dL" x="208"/></g><g id="k36-5"><use href="#oL" x="260"/></g><g id="k36-6"><use href="#dL" x="312"/></g><g id="k36-7"><use href="#oL" x="364"/></g><g id="k36-8"><use href="#dL" x="416"/></g><g id="k36-9"><use href="#oL" x="468"/></g><g id="k36-10"><use href="#dL" x="520"/></g><g id="k36-11"><use href="#dL" x="572"/></g><g id="k36-12"><use href="#dL" x="624"/></g><g id="k36-13"><use href="#dL" x="676"/></g></g>
<g transform="translate(0,1924)"><g id="k37-1"><use href="#dR" x="52"/></g><g id="k37-2"><use href="#dR" x="104"/></g><g id="k37-3"><use href="#dR" x="156"/></g><g id="k37-4"><use href="#dR" x="208"/></g><g id="k37-5"><use href="#oR" x="260"/></g><g id="k37-6"><use href="#dR" x="312"/></g><g id="k37-7"><use href="#oR" x="364"/></g><g id="k37-8"><use href="#dR" x="416"/></g><g id="k37-9"><use href="#oR" x="468"/></g><g id="k37-10"><use href="#dR" x="520"/></g><g id="k37-11"><use href="#dR" x="572"/></g><g id="k37-12"><use href="#dR" x="624"/></g><g id="k37-13"><use href="#dR" x="676"/></g></g>
<g transform="translate(0,1976)"><g id="k38-1"><use href="#dL" x="52"/></g><g id="k38-2"><use href="#dL" x="104"/></g><g id="k38-3"><use href="#dL" x="156"/></g><g id="k38-4"><use href="#dL" x="208"/></g><g id="k38-5"><use href="#oL" x="260"/></g><g id="k38-6"><use href="#dL" x="312"/></g><g id="k38-7"><use href="#oL" x="364"/></g><g id="k38-8"><use href="#dL" x="416"/></g><g id="k38-9"><use href="#oL" x="468"/></g><g id="k38-10"><use href="#dL" x="520"/></g><g id="k38-11"><use href="#dL" x="572"/></g><g id="k38-12"><use href="#dL" x="624"/></g><g id="k38-13"><use href="#dL" x="676"/></g></g>
<g transform="translate(0,2028)"><g id="k39-1"><use href="#dR" x="52"/></g><g id="k39-2"><use href="#dR" x="104"/></g><g id="k39-3"><use href="#dR" x="156"/></g><g id="k39-4"><use href="#dR" x="208"/></g><g id="k39-5"><use href="#dR" x="260"/></g><g id="k39-6"><use href="#dR" x="312"/></g><g id="k39-7"><use href="#oR" x="364"/></g><g id="k39-8"><use href="#dR" x="416"/></g><g id="k39-9"><use href="#dR" x="468"/></g><g id="k39-10"><use href="#dR" x="520"/></g><g id="k39-11"><use href="#dR" x="572"/></g><g id="k39-12"><use href="#dR" x="624"/></g><g id="k39-13"><use href="#dR" x="676"/></g></g>
<g transform="translate(0,2080)"><g id="k40-1"><use href="#dL" x="52"/></g><g id="k40-2"><use href="#dL" x="104"/></g><g id="k40-3"><use href="#dL" x="156"/></g><g id="k40-4"><use href="#dL" x="208"/></g><g id="k40-5"><use href="#dL" x="260"/></g><g id="k40-6"><use href="#dL" x="312"/></g><g id="k40-7"><use href="#oL" x="364"/></g><g id="k40-8"><use href="#dL" x="416"/></g><g id="k40-9"><use href="#dL" x="468"/></g><g id="k40-10"><use href="#dL" x="520"/></g><g id="k40-11"><use href="#dL" x="572"/></g><g id="k40-12"><use href="#dL" x="624"/></g><g id="k40-13"><use href="#dL" x="676"/></g></g>
<g transform="translate(0,2132)"><g id="k41-1"><use href="#dR" x="52"/></g><g id="k41-2"><use href="#dR" x="104"/></g><g id="k41-3"><use href="#dR" x="156"/></g><g id="k41-4"><use href="#dR" x="208"/></g><g id="k41-5"><use href="#dR" x="260"/></g><g id="k41-6"><use href="#dR" x="312"/></g><g id="k41-7"><use href="#oR" x="364"/></g><g id="k41-8"><use href="#dR" x="416"/></g><g id="k41-9"><use href="#dR" x="468"/></g><g id="k41-10"><use href="#dR" x="520"/></g><g id="k41-11"><use href="#dR" x="572"/></g><g id="k41-12"><use href="#dR" x="624"/></g><g id="k41-13"><use href="#dR" x="676"/></g></g>
<g transform="translate(0,2184)"><g id="k42-1"><use href="#dL" x="52"/></g><g id="k42-2"><use href="#dL" x="104"/></g><g id="k42-3"><use href="#dL" x="156"/></g><g id="k42-4"><use href="#dL" x="208"/></g><g id="k42-5"><use href="#dL" x="260"/></g><g id="k42-6"><use href="#dL" x="312"/></g><g id="k42-7"><use href="#oL" x="364"/></g><g id="k42-8"><use href="#dL" x="416"/></g><g id="k42-9"><use href="#dL" x="468"/></g><g id="k42-10"><use href="#dL" x="520"/></g><g id="k42-11"><use href="#dL" x="572"/></g><g id="k42-12"><use href="#dL" x="624"/></g><g id="k42-13"><use href="#dL" x="676"/></g></g>
<g transform="translate(0,2236)"><g id="k43-1"><use href="#dR" x="52"/></g><g id="k43-2"><use href="#dR" x="104"/></g><g id="k43-3"><use href="#dR" x="156"/></g><g id="k43-4"><use href="#dR" x="208"/></g><g id="k43-5"><use href="#dR" x="260"/></g><g id="k43-6"><use href="#dR" x="312"/></g><g id="k43-7"><use href="#oR" x="364"/></g><g id="k43-8"><use href="#dR" x="416"/></g><g id="k43-9"><use href="#dR" x="468"/></g><g id="k43-10"><use href="#dR" x="520"/></g><g id="k43-11"><use href="#dR" x="572"/></g><g id="k43-12"><use href="#dR" x="624"/></g><g id="k43-13"><use href="#dR" x="676"/></g></g>
<g transform="translate(0,2288)"><g id="k44-1"><use href="#dL" x="52"/></g><g id="k44-2"><use href="#dL" x="104"/></g><g id="k44-3"><use href="#dL" x="156"/></g><g id="k44-4"><use href="#dL" x="208"/></g><g id="k44-5"><use href="#dL" x="260"/></g><g id="k44-6"><use href="#dL" x="312"/></g><g id="k44-7"><use href="#oL" x="364"/></g><g id="k44-8"><use href="#dL" x="416"/></g><g id="k44-9"><use href="#dL" x="468"/></g><g id="k44-10"><use href="#dL" x="520"/></g><g id="k44-11"><use href="#dL" x="572"/></g><g id="k44-12"><use href="#dL" x="624"/></g><g id="k44-13"><use href="#dL" x="676"/></g></g>
<g transform="translate(0,2340)"><g id="k45-1"><use href="#dR" x="52"/></g><g id="k45-2"><use href="#dR" x="104"/></g><g id="k45-3"><use href="#dR" x="156"/></g><g id="k45-4"><use href="#dR" x="208"/></g><g id="k45-5"><use href="#dR" x="260"/></g><g id="k45-6"><use href="#dR" x="312"/></g><g id="k45-7"><use href="#dR" x="364"/></g><g id="k45-8"><use href="#dR" x="416"/></g><g id="k45-9"><use href="#dR" x="468"/></g><g id="k45-10"><use href="#dR" x="520"/></g><g id="k45-11"><use href="#dR" x="572"/></g><g id="k45-12"><use href="#dR" x="624"/></g><g id="k45-13"><use href="#dR" x="676"/></g></g>
<g transform="translate(0,2392)"><g id="k46-1"><use href="#dL" x="52"/></g><g id="k46-2"><use href="#dL" x="104"/></g><g id="k46-3"><use href="#dL" x="156"/></g><g id="k46-4"><use href="#dL" x="208"/></g><g id="k46-5"><use href="#dL" x="260"/></g><g id="k46-6"><use href="#dL" x="312"/></g><g id="k46-7"><use href="#oL" x="364"/></g><g id="k46-8"><use href="#dL" x="416"/></g><g id="k46-9"><use href="#dL" x="468"/></g><g id="k46-10"><use href="#dL" x="520"/></g><g id="k46-11"><use href="#dL" x="572"/></g><g id="k46-12"><use href="#dL" x="624"/></g><g id="k46-13"><use href="#dL" x="676"/></g></g>
<g transform="translate(0,2444)"><g id="k47-1"><use href="#dR" x="52"/></g><g id="k47-2"><use href="#dR" x="104"/></g><g id="k47-3"><use href="#dR" x="156"/></g><g id="k47-4"><use href="#dR" x="208"/></g><g id="k47-5"><use href="#dR" x="260"/></g><g id="k47-6"><use href="#dR" x="312"/></g><g id="k47-7"><use href="#dR" x="364"/></g><g id="k47-8"><use href="#dR" x="416"/></g><g id="k47-9"><use href="#dR" x="468"/></g><g id="k47-10"><use href="#dR" x="520"/></g><g id="k47-11"><use href="#dR" x="572"/></g><g id="k47-12"><use href="#dR" x="624"/></g><g id="k47-13"><use href="#dR" x="676"/></g></g>
</g>
<g id="row-numbers" class="lbl">
<g text-anchor="end">
<text x="-11" y="56.5">1</text><text x="-11" y="108.5">2</text><text x="-11" y="160.5">3</text><text x="-11" y="212.5">4</text><text x="-11" y="264.5">5</text><text x="-11" y="316.5">6</text><text x="-11" y="368.5">7</text><text x="-11" y="420.5">8</text><text x="-11" y="472.5">9</text><text x="-11" y="524.5">10</text><text x="-11" y="576.5">11</text><text x="-11" y="628.5">12</text><text x="-11" y="680.5">13</text><text x="-11" y="732.5">14</text><text x="-11" y="784.5">15</text><text x="-11" y="836.5">16</text><text x="-11" y="888.5">17</text><text x="-11" y="940.5">18</text><text x="-11" y="992.5">19</text><text x="-11" y="1044.5">20</text><text x="-11" y="1096.5">21</text><text x="-11" y="1148.5">22</text><text x="-11" y="1200.5">23</text><text x="-11" y="1252.5">24</text><text x="-11" y="1304.5">25</text><text x="-11" y="1356.5">26</text><text x="-11" y="1408.5">27</text><text x="-11" y="1460.5">28</text><text x="-11" y="1512.5">29</text><text x="-11" y="1564.5">30</text><text x="-11" y="1616.5">31</text><text x="-11" y="1668.5">32</text><text x="-11" y="1720.5">33</text><text x="-11" y="1772.5">34</text><text x="-11" y="1824.5">35</text><text x="-11" y="1876.5">36</text><text x="-11" y="1928.5">37</text><text x="-11" y="1980.5">38</text><text x="-11" y="2032.5">39</text><text x="-11" y="2084.5">40</text><text x="-11" y="2136.5">41</text><text x="-11" y="2188.5">42</text><text x="-11" y="2240.5">43</text><text x="-11" y="2292.5">44</text><text x="-11" y="2344.5">45</text><text x="-11" y="2396.5">46</text><text x="-11" y="2448.5">47</text>
</g>
<g>
<text x="739" y="56.5">1</text><text x="739" y="108.5">2</text><text x="739" y="160.5">3</text><text x="739" y="212.5">4</text><text x="739" y="264.5">5</text><text x="739" y="316.5">6</text><text x="739" y="368.5">7</text><text x="739" y="420.5">8</text><text x="739" y="472.5">9</text><text x="739" y="524.5">10</text><text x="739" y="576.5">11</text><text x="739" y="628.5">12</text><text x="739" y="680.5">13</text><text x="739" y="732.5">14</text><text x="739" y="784.5">15</text><text x="739" y="836.5">16</text><text x="739" y="888.5">17</text><text x="739" y="940.5">18</text><text x="739" y="992.5">19</text><text x="739" y="1044.5">20</text><text x="739" y="1096.5">21</text><text x="739" y="1148.5">22</text><text x="739" y="1200.5">23</text><text x="739" y="1252.5">24</text><text x="739" y="1304.5">25</text><text x="739" y="1356.5">26</text><text x="739" y="1408.5">27</text><text x="739" y="1460.5">28</text><text x="739" y="1512.5">29</text><text x="739" y="1564.5">30</text><text x="739" y="1616.5">31</text><text x="739" y="1668.5">32</text><text x="739" y="1720.5">33</text><text x="739" y="1772.5">34</text><text x="739" y="1824.5">35</text><text x="739" y="1876.5">36</text><text x="739" y="1928.5">37</text><text x="739" y="1980.5">38</text><text x="739" y="2032.5">39</text><text x="739" y="2084.5">40</text><text x="739" y="2136.5">41</text><text x="739" y="2188.5">42</text><text x="739" y="2240.5">43</text><text x="739" y="2292.5">44</text><text x="739" y="2344.5">45</text><text x="739" y="2396.5">46</text><text x="739" y="2448.5">47</text>
</g>
</g>
</g>
<text class="wm" x="396.5" y="1289" text-anchor="middle" textLength="153" lengthAdjust="spacingAndGlyphs">BRACELETBOOK.COM</text>
</svg>
